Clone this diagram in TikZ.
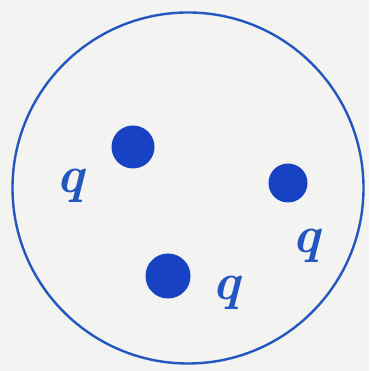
\documentclass[tikz,border=0pt]{standalone}
\definecolor{paper}{HTML}{F3F3F1}
\definecolor{ink}{HTML}{2456C0}
\definecolor{dotblue}{HTML}{1742C4}
\tikzset{
  ring/.style={circle, draw=ink, line width=2.4pt, inner sep=0pt},
  charge/.style={circle, fill=dotblue, inner sep=0pt},
  qlabel/.style={text=ink, font=\fontsize{52}{52}\selectfont\bfseries\itshape, inner sep=0pt}
}
\begin{document}
\begin{tikzpicture}[x=1pt,y=1pt]
\fill[paper] (0,0) rectangle (369,371);
\useasboundingbox (0,0) rectangle (369,371);
\node[ring, minimum size=351pt] (border) at (188,183) {};
\node[charge, minimum size=43pt] (c1) at (133,224) {};
\node[charge, minimum size=39pt] (c2) at (288,188) {};
\node[charge, minimum size=45pt] (c3) at (168,95) {};
\node[qlabel] (q1) at (70,185) {q};
\node[qlabel] (q2) at (306,125) {q};
\node[qlabel] (q3) at (226,78) {q};
\end{tikzpicture}
\end{document}
